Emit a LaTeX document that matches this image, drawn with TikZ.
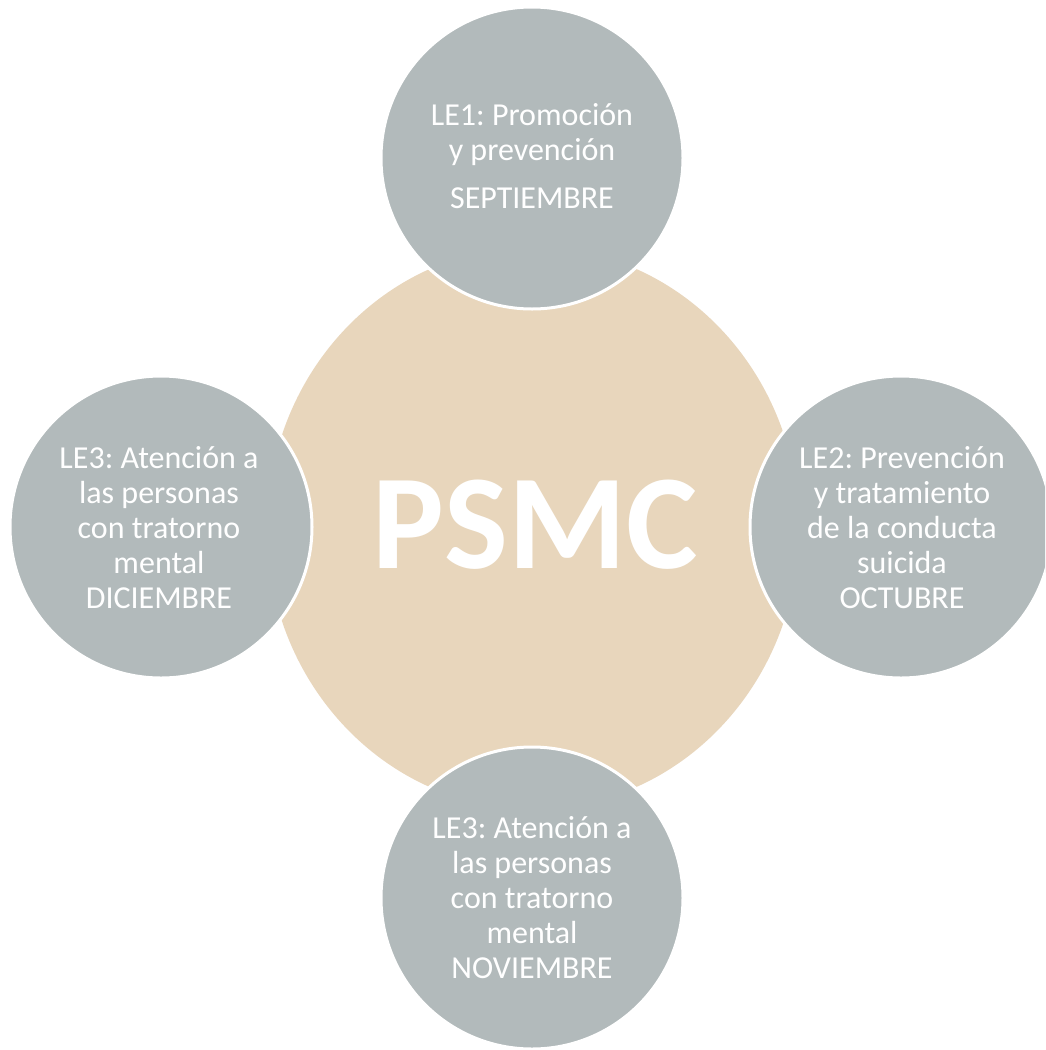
\documentclass[tikz,border=0pt]{standalone}
\usepackage{fontspec}
\setmainfont{Carlito}
\usetikzlibrary{shapes.geometric}
\definecolor{sand}{HTML}{E8D6BC}
\definecolor{slate}{HTML}{B2BABB}
\begin{document}
\frenchspacing
\begin{tikzpicture}[x=1pt,y=-1pt,
  hub/.style={ellipse,fill=sand,inner sep=0pt,minimum width=532pt,minimum height=562pt},
  sat/.style={circle,fill=slate,draw=white,line width=3pt,inner sep=0pt,minimum size=302pt},
  lbl/.style={text=white,align=flush center,text width=280pt,inner sep=0pt,anchor=base,
    font=\fontsize{32}{35}\selectfont}]
\fill[white] (0,0) rectangle (1045,1050);
\useasboundingbox (0,0) rectangle (1045,1050);
\clip (0,0) rectangle (1045,1050);
\node[hub] (hub) at (533,528) {};
\node[text=white,font=\fontsize{135}{140}\selectfont\bfseries,inner sep=0pt,anchor=base] (psmc) at (535,568) {PSMC};
\node[sat] (top) at (532,158) {};
\node[sat] (right) at (901,527) {};
\node[sat] (bottom) at (532,898) {};
\node[sat] (left) at (161,527) {};
\node[lbl] (ttop) at (532,125) {LE1: Promoción\\y prevención\\[13pt]SEPTIEMBRE};
\node[lbl] (tright) at (902,468) {LE2: Prevención\\y tratamiento\\de la conducta\\suicida\\OCTUBRE};
\node[lbl] (tbottom) at (532,838) {LE3: Atención a\\las personas\\con tratorno\\mental\\NOVIEMBRE};
\node[lbl] (tleft) at (159,468) {LE3: Atención a\\las personas\\con tratorno\\mental\\DICIEMBRE};
\end{tikzpicture}
\end{document}
